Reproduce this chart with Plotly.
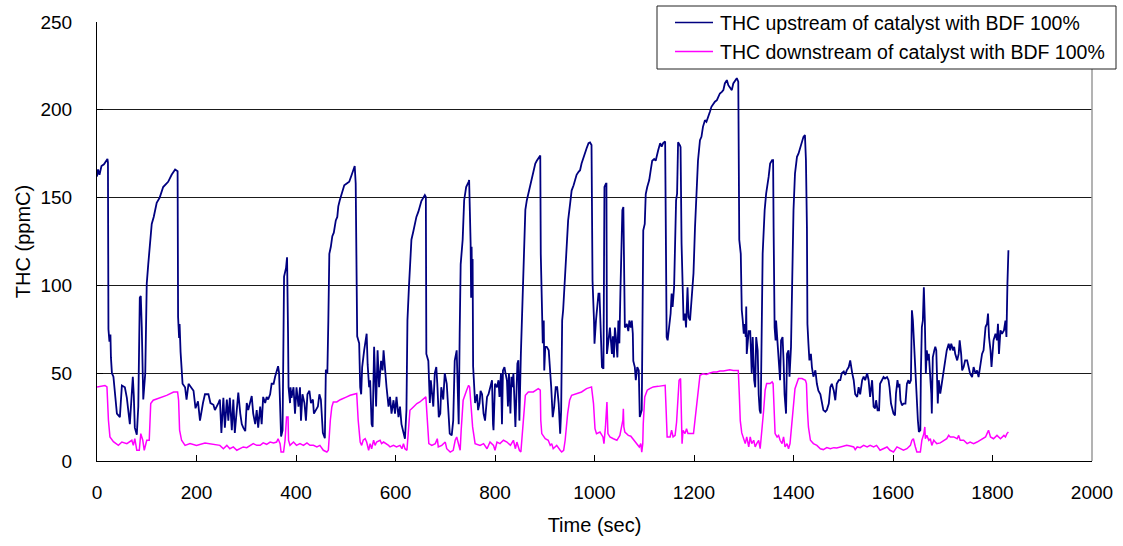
import plotly.graph_objects as go

# THC measured upstream of the catalyst (time in s, concentration in ppmC)
up_time = [
    0, 2, 5, 9, 14, 21, 22, 23, 25, 27, 28, 30, 33, 40, 46, 50, 56, 60, 66, 72,
    74, 76, 80, 83, 86, 88, 90, 93, 97, 100, 103, 107, 110, 114, 120, 126, 133, 143, 150, 157,
    162, 163, 165, 166, 168, 172, 177, 180, 184, 194, 198, 203, 207, 213, 217, 224, 228, 234, 237, 244,
    247, 250, 254, 257, 261, 264, 267, 271, 274, 277, 281, 284, 288, 291, 294, 298, 301, 304, 311, 314,
    318, 321, 324, 328, 331, 334, 338, 341, 344, 348, 351, 355, 358, 361, 364, 366, 368, 370, 373, 376,
    380, 382, 384, 385, 388, 389, 391, 395, 398, 401, 405, 408, 410, 413, 417, 420, 423, 427, 430, 434,
    436, 440, 444, 447, 450, 454, 458, 460, 463, 465, 467, 470, 473, 476, 480, 483, 485, 488, 493, 497,
    502, 507, 512, 515, 518, 520, 522, 523, 527, 529, 531, 533, 537, 540, 542, 544, 547, 549, 552, 554,
    557, 559, 561, 564, 567, 571, 574, 576, 579, 582, 586, 589, 592, 596, 599, 602, 606, 609, 612, 616,
    619, 622, 624, 627, 629, 632, 636, 639, 642, 646, 649, 652, 656, 659, 661, 662, 666, 667, 669, 671,
    674, 676, 679, 682, 684, 687, 690, 692, 696, 699, 703, 706, 709, 713, 716, 719, 723, 725, 727, 729,
    731, 735, 738, 742, 744, 747, 748, 750, 751, 752, 753, 754, 755, 756, 758, 760, 764, 766, 769, 771,
    774, 777, 780, 784, 787, 790, 794, 796, 797, 800, 804, 807, 809, 812, 814, 816, 819, 821, 824, 826,
    828, 831, 833, 835, 837, 841, 843, 845, 847, 849, 852, 854, 856, 859, 861, 864, 867, 871, 874, 877,
    881, 884, 888, 891, 892, 894, 896, 898, 899, 901, 904, 908, 911, 913, 916, 919, 922, 925, 928, 931,
    933, 935, 937, 941, 944, 947, 951, 954, 958, 961, 964, 968, 971, 974, 978, 981, 984, 988, 991, 994,
    996, 999, 1000, 1003, 1006, 1008, 1010, 1011, 1013, 1015, 1018, 1019, 1020, 1023, 1024, 1025, 1028, 1031, 1035, 1037,
    1039, 1041, 1043, 1046, 1048, 1050, 1052, 1054, 1056, 1058, 1059, 1061, 1065, 1068, 1070, 1073, 1075, 1077, 1078, 1081,
    1083, 1086, 1089, 1091, 1095, 1097, 1098, 1101, 1103, 1106, 1110, 1113, 1116, 1120, 1123, 1128, 1132, 1135, 1138, 1142,
    1143, 1145, 1147, 1150, 1153, 1155, 1157, 1160, 1162, 1164, 1166, 1168, 1172, 1173, 1175, 1177, 1179, 1182, 1184, 1187,
    1189, 1192, 1195, 1199, 1202, 1205, 1208, 1212, 1215, 1218, 1222, 1225, 1229, 1232, 1235, 1239, 1242, 1246, 1249, 1252,
    1256, 1259, 1262, 1266, 1269, 1272, 1276, 1279, 1283, 1286, 1289, 1291, 1294, 1296, 1298, 1300, 1302, 1304, 1305, 1306,
    1310, 1313, 1316, 1318, 1321, 1323, 1325, 1328, 1330, 1332, 1334, 1336, 1338, 1342, 1345, 1350, 1353, 1357, 1359, 1360,
    1362, 1364, 1365, 1368, 1371, 1373, 1375, 1378, 1380, 1382, 1385, 1387, 1390, 1392, 1395, 1397, 1400, 1403, 1407, 1410,
    1414, 1417, 1420, 1423, 1425, 1427, 1428, 1430, 1432, 1435, 1437, 1440, 1444, 1447, 1450, 1454, 1457, 1460, 1464, 1467,
    1471, 1474, 1477, 1481, 1484, 1487, 1491, 1494, 1497, 1501, 1504, 1507, 1511, 1514, 1518, 1521, 1524, 1528, 1531, 1534,
    1538, 1541, 1544, 1548, 1551, 1554, 1558, 1561, 1564, 1566, 1569, 1572, 1574, 1578, 1581, 1584, 1588, 1591, 1593, 1596,
    1598, 1601, 1604, 1606, 1609, 1611, 1613, 1615, 1618, 1621, 1625, 1628, 1631, 1633, 1636, 1638, 1640, 1643, 1645, 1647,
    1650, 1652, 1655, 1656, 1658, 1660, 1662, 1664, 1665, 1666, 1668, 1670, 1672, 1675, 1677, 1678, 1680, 1683, 1685, 1687,
    1688, 1690, 1692, 1695, 1698, 1702, 1705, 1708, 1712, 1715, 1717, 1721, 1723, 1725, 1729, 1732, 1734, 1737, 1739, 1742,
    1745, 1749, 1752, 1755, 1759, 1762, 1766, 1769, 1772, 1776, 1779, 1782, 1786, 1789, 1791, 1793, 1796, 1798, 1800, 1802,
    1806, 1809, 1811, 1813, 1816, 1819, 1823, 1826, 1828, 1829, 1830, 1832,
]
up_thc = [
    162, 166, 163, 168, 169, 172, 170, 75, 68, 72, 59, 50, 48, 27, 25, 43, 42, 36, 21, 48,
    37, 19, 15, 31, 93, 94, 76, 35, 50, 101, 112, 124, 135, 139, 147, 150, 156, 159, 163, 166,
    165, 82, 70, 78, 62, 44, 42, 35, 44, 40, 30, 34, 23, 33, 38, 38, 33, 32, 29, 33,
    35, 16, 36, 19, 35, 23, 36, 17.5, 35, 16, 29, 39, 27, 21, 19, 17, 33, 29, 37, 27,
    21, 29, 19, 31, 21, 36.5, 33, 36.5, 35, 38, 44, 44, 48, 52, 54, 50, 23, 14, 17.5, 105,
    110, 116, 73, 42, 33, 42, 36, 42, 27, 42, 31, 42, 23, 38, 33, 23, 38, 40, 33, 35,
    27, 29, 31, 38, 35, 16, 13, 52, 50, 80, 118, 122, 128, 130, 137, 139, 145, 148.5, 153, 157,
    158, 159, 163, 165, 168, 158, 109, 71, 67, 42, 38, 53.5, 63, 69, 72.5, 55, 42, 46, 21, 19.4,
    65, 48, 31, 63, 42, 57, 51.6, 63, 50, 42, 31, 36.5, 27, 34.6, 27, 36.5, 25, 31, 21, 15.6,
    12.7, 29, 80, 99, 112, 126, 131, 135, 139, 142, 146, 148, 150, 151.4, 150.4, 61, 57, 44, 33, 46,
    38, 31, 50, 53.5, 44, 25, 27, 42, 35, 50, 44, 27, 15.6, 14.6, 23, 57, 63, 42, 21, 72.5,
    112, 126, 148.5, 156, 157, 159, 160, 136, 124, 93, 122, 94, 115, 54, 44, 33, 38, 29, 33, 40,
    38, 27, 23, 36.5, 38, 42, 46, 21, 17.5, 44, 42, 46, 36.5, 50, 21, 51.6, 53.5, 50, 46, 31,
    50, 27, 48, 42, 50, 19.4, 42, 55.4, 57.3, 23, 61, 80, 108.6, 133, 143, 148.5, 152.3, 157, 162, 165.6,
    169.4, 171, 173, 174, 118, 80, 67, 80, 51.6, 65, 65, 63, 51.6, 42, 25, 31, 42, 42, 32.7, 15.6,
    29, 80, 86, 108.6, 127.6, 137, 146.6, 154, 157, 161, 163, 164.7, 165.6, 169.4, 173.2, 176, 178, 181, 181.4, 180,
    102.9, 80, 66.8, 80, 87.7, 95.3, 95.3, 87.7, 76.3, 53.5, 52.6, 87.7, 156, 158, 158, 61, 70.6, 76, 61, 71,
    59, 76, 70.6, 59, 80, 67, 95.3, 131.4, 142.8, 144.7, 103, 76, 78, 74, 80, 76, 80, 72.5, 57, 53.5,
    46, 53.5, 51.6, 25, 29, 86, 131.4, 135, 152, 156, 160, 165.6, 171, 172, 171, 177, 181, 179, 181, 182,
    152, 70.6, 68.7, 78, 84, 95.3, 87.7, 99, 133, 148.5, 152.3, 181.5, 179.6, 178.7, 123.8, 95.3, 80, 84, 76, 99,
    82, 80, 91.5, 107, 133, 148.5, 171, 182.7, 184.6, 190.3, 194.1, 193.2, 196, 198.9, 201.7, 203.6, 204.6, 205.5, 207.4, 209.3,
    210.2, 211.2, 215, 216.9, 214, 213, 211.2, 215, 217, 218, 216, 126, 118, 86, 80, 72.5, 78, 70.6, 88, 61,
    74, 74, 50, 70.6, 46, 42, 70.6, 63, 38, 29, 27, 87.7, 118, 142.8, 152.3, 161.8, 169.4, 171.3, 171.3, 133,
    76, 68.7, 80, 67, 57.3, 46, 68.7, 70.6, 57.3, 38, 27, 61, 63, 48, 65, 105, 142.8, 163.7, 173.2, 175,
    179, 180.8, 184.6, 185.6, 171.3, 133, 78, 66.8, 57.3, 61, 53.5, 48, 51.6, 44, 40, 38, 32.7, 29, 28, 29,
    32.7, 42, 44, 40, 34.6, 44, 46, 46, 50, 51, 49, 51.6, 53.5, 57.3, 50, 46, 38, 36.5, 42, 38,
    46, 48, 46, 50, 46, 36.5, 46, 31, 30, 34.6, 28.9, 28.9, 44, 46, 47.8, 47, 47.8, 46, 42, 32.7,
    30.8, 27, 26, 38.4, 46, 42, 44, 34.6, 31.7, 32.7, 32.7, 44, 46, 44, 46, 85.8, 80, 61, 53.5, 36.5,
    23.2, 16.5, 17.5, 49.7, 76.3, 80, 99, 80, 61, 49.7, 63, 57.3, 61, 49.7, 38.4, 27, 59, 63, 65, 63,
    49.7, 32.7, 46, 38.4, 44, 53.5, 57.3, 63, 66.8, 63, 66.8, 63, 65, 61, 57.3, 61, 68.7, 61, 51.6, 53.5,
    57.3, 57.3, 53.5, 49.7, 47.8, 53.5, 49.7, 51.6, 47.8, 55.4, 61, 63, 76.3, 78.2, 84, 70.6, 63, 53.5, 65, 68.7,
    72.5, 68.7, 78.2, 61, 74.4, 72.5, 74.4, 80, 70.6, 91.5, 101, 120,
]

# THC measured downstream of the catalyst
down_time = [
    0, 16, 20, 23, 26, 33, 43, 50, 60, 70, 73, 76, 80, 85, 88, 92, 95, 100, 105, 108,
    113, 127, 140, 154, 162, 164, 166, 170, 177, 187, 200, 217, 227, 241, 247, 254, 261, 267, 274, 281,
    288, 294, 301, 308, 314, 321, 328, 334, 341, 348, 355, 361, 364, 368, 370, 375, 378, 381, 384, 385,
    388, 395, 401, 408, 415, 422, 428, 435, 442, 448, 455, 462, 465, 469, 472, 475, 482, 489, 495, 502,
    509, 515, 522, 525, 529, 532, 535, 539, 542, 546, 549, 552, 556, 559, 562, 569, 572, 576, 582, 586,
    589, 596, 602, 609, 613, 616, 619, 623, 626, 629, 636, 643, 649, 656, 661, 664, 667, 673, 680, 684,
    686, 693, 700, 703, 710, 716, 720, 723, 726, 730, 732, 736, 743, 747, 749, 751, 755, 760, 770, 777,
    784, 790, 797, 800, 804, 810, 817, 824, 831, 837, 841, 844, 849, 852, 855, 857, 861, 867, 877, 887,
    891, 892, 894, 901, 907, 911, 914, 917, 924, 931, 934, 938, 941, 946, 950, 954, 964, 974, 984, 994,
    998, 1001, 1004, 1011, 1017, 1019, 1022, 1025, 1027, 1031, 1038, 1045, 1051, 1055, 1057, 1058, 1059, 1061, 1068, 1073,
    1077, 1081, 1085, 1090, 1093, 1095, 1097, 1098, 1101, 1106, 1111, 1118, 1128, 1138, 1142, 1144, 1146, 1152, 1155, 1158,
    1162, 1165, 1168, 1170, 1173, 1174, 1176, 1178, 1182, 1185, 1188, 1199, 1202, 1205, 1208, 1212, 1218, 1225, 1232, 1239,
    1246, 1252, 1259, 1266, 1272, 1279, 1289, 1291, 1293, 1296, 1300, 1303, 1306, 1310, 1313, 1316, 1320, 1323, 1326, 1330,
    1333, 1336, 1340, 1343, 1346, 1353, 1357, 1359, 1361, 1363, 1367, 1370, 1373, 1377, 1380, 1383, 1387, 1390, 1393, 1397,
    1400, 1403, 1410, 1417, 1424, 1426, 1428, 1430, 1434, 1440, 1447, 1454, 1460, 1467, 1474, 1481, 1487, 1494, 1501, 1507,
    1514, 1521, 1524, 1528, 1534, 1541, 1548, 1554, 1561, 1567, 1574, 1581, 1588, 1594, 1601, 1608, 1615, 1621, 1628, 1635,
    1638, 1641, 1645, 1648, 1655, 1658, 1662, 1664, 1665, 1668, 1672, 1675, 1678, 1682, 1685, 1688, 1695, 1702, 1708, 1712,
    1715, 1722, 1729, 1732, 1735, 1742, 1749, 1755, 1762, 1769, 1776, 1782, 1786, 1789, 1792, 1796, 1802, 1809, 1816, 1823,
    1826, 1829, 1832,
]
down_thc = [
    42.2, 43, 42.2, 23.2, 13.7, 11, 8.9, 10.8, 9.9, 11.8, 8.9, 12.7, 6.1, 6.1, 15.6, 11.8, 6.1, 11.8, 11.8, 32.7,
    34.6, 36, 37.4, 39.3, 39.3, 34.6, 17.5, 11.8, 8.9, 9.9, 8.9, 10.3, 9.9, 8.9, 8.9, 7, 8.9, 7, 8, 6.1,
    7, 8, 7.6, 8.9, 9.9, 8.9, 8.9, 10.3, 9.5, 10.8, 10.3, 10.8, 12.7, 9.9, 5.1, 5.1, 11.8, 25, 25, 11.8,
    8.9, 10.8, 8.9, 9.9, 8.9, 10.3, 8.9, 8.9, 8, 8.9, 6.1, 5.1, 6.1, 23.2, 30.8, 33.6, 33.6, 34.9, 35.5, 36.5,
    37.4, 38, 38.4, 23.2, 10.8, 8.9, 11.8, 12.7, 10.8, 6.1, 9.9, 7, 11.8, 8.9, 10.8, 11.8, 9.9, 10.8, 9.9, 8.9,
    8, 8.9, 8, 8.9, 7, 9.9, 7, 6.1, 17.5, 28.9, 30.8, 32.7, 33.6, 35.5, 36.5, 23.2, 9.9, 8.9, 9.9, 12.7,
    8, 8.9, 10.8, 7, 5.1, 6.1, 11.8, 13.7, 9.9, 6.1, 17.5, 34.6, 40.3, 43.1, 42.2, 32.7, 19.4, 9.9, 8.9, 9.9,
    7, 10.8, 8.9, 6.1, 10.8, 9.9, 11.8, 10.8, 8.9, 11.8, 7, 10.8, 6.1, 5.1, 15.6, 27, 37.4, 39.3, 39.3, 41.2,
    40.3, 23.2, 15.6, 12.7, 11.8, 8.9, 9.9, 7, 8.9, 6.1, 5.1, 6.1, 11.8, 27, 34.6, 37.4, 38.4, 39.3, 41.2, 42.2,
    32.7, 18.4, 15.6, 16.5, 13.7, 9.9, 19.4, 33.6, 15.6, 13.7, 12.7, 11.8, 14.6, 19.4, 23.2, 29.8, 19.4, 16.5, 14.6, 14.1,
    12.7, 10.8, 9.9, 8, 9.9, 5.1, 9.9, 21.3, 36.5, 40.3, 41.2, 42.2, 42.5, 43.1, 43.1, 28.9, 13.7, 13.7, 17.5, 13.7,
    14.6, 22.2, 38.4, 46, 47, 25.1, 9.9, 17.5, 15.6, 18.4, 15.6, 15.6, 23.2, 30.8, 40.3, 48.8, 49.7, 49.3, 50.1, 50.7,
    50.7, 51.2, 51.2, 51.6, 52, 51.6, 51.6, 38.4, 23, 16, 12.7, 9.9, 13.7, 8, 13.7, 9.9, 11.8, 8, 9.9, 11.8,
    7, 15.6, 28.9, 40.3, 44.1, 44.1, 45, 44.1, 28.9, 15.6, 13.7, 14.6, 11.8, 9.9, 13.7, 8, 9.9, 7, 9.9, 23.2,
    34.6, 41.2, 47, 47, 46, 44.1, 28.9, 19.4, 11.8, 9.9, 8.9, 7, 6.5, 7.6, 7, 7.6, 7.4, 8, 8.5, 8.9,
    8.5, 8, 6.5, 8, 7.6, 8.9, 8, 8.9, 8, 8.9, 6.1, 7, 8, 6.1, 5.1, 8, 7, 6.1, 7, 8.9,
    11.8, 12.7, 8, 5.1, 5.1, 11.8, 15.6, 19.4, 12.7, 14.6, 11.8, 12.7, 8.9, 11.8, 10.8, 9.9, 10.3, 11.8, 12.7, 14.6,
    13.7, 13.7, 12.7, 14.6, 11.8, 11.8, 9.9, 10.8, 9.9, 10.8, 11.8, 12.7, 13.7, 15.6, 17.5, 13.7, 12.7, 14.6, 12.7, 14.6,
    13.7, 15.6, 16.5,
]

series_names = [
    "THC upstream of catalyst with BDF 100%",
    "THC downstream of catalyst with BDF 100%",
]
series_colors = ["#000080", "#FF00FF"]

x_ticks = list(range(0, 2001, 200))
y_ticks = list(range(0, 251, 50))

FONT = "Liberation Sans, Arial, sans-serif"

# figure geometry (pixels)
W, H = 1123, 546
M_L, M_R, M_T, M_B = 97, 31, 22, 85
PLOT_W = W - M_L - M_R
PLOT_H = H - M_T - M_B


def paper_x(px):
    return (px - M_L) / PLOT_W


def paper_y(py):
    return (H - M_B - py) / PLOT_H


fig = go.Figure()
fig.add_trace(go.Scatter(
    x=up_time, y=up_thc, mode="lines", name=series_names[0],
    line=dict(color=series_colors[0], width=1.8), showlegend=False,
))
fig.add_trace(go.Scatter(
    x=down_time, y=down_thc, mode="lines", name=series_names[1],
    line=dict(color=series_colors[1], width=1.5), showlegend=False,
))

# plot-area frame on the right side
fig.add_shape(type="line", xref="paper", yref="paper", x0=1, x1=1, y0=0, y1=1,
              line=dict(color="#9a9a9a", width=1.5), layer="above")

# legend box, overlapping the top-right corner of the plot area
LEG_LEFT, LEG_RIGHT, LEG_TOP, LEG_BOTTOM = 657, 1116, 6, 69
ROW_Y = [22.5, 51.5]
SAMPLE_X0, SAMPLE_X1, TEXT_X = 675, 713, 718

fig.add_shape(type="rect", xref="paper", yref="paper",
              x0=paper_x(LEG_LEFT), x1=paper_x(LEG_RIGHT),
              y0=paper_y(LEG_BOTTOM), y1=paper_y(LEG_TOP),
              fillcolor="white", line=dict(color="#222222", width=1), layer="above")
for name, color, ry in zip(series_names, series_colors, ROW_Y):
    fig.add_shape(type="line", xref="paper", yref="paper",
                  x0=paper_x(SAMPLE_X0), x1=paper_x(SAMPLE_X1),
                  y0=paper_y(ry), y1=paper_y(ry),
                  line=dict(color=color, width=1.5), layer="above")
    fig.add_annotation(xref="paper", yref="paper", x=paper_x(TEXT_X), y=paper_y(ry),
                       xanchor="left", yanchor="middle", text=name, showarrow=False,
                       font=dict(family=FONT, size=19.5, color="black"))

fig.update_layout(
    width=W, height=H,
    margin=dict(l=M_L, r=M_R, t=M_T, b=M_B),
    paper_bgcolor="white", plot_bgcolor="white",
    font=dict(family=FONT, size=19, color="black"),
    showlegend=False,
    xaxis=dict(
        range=[0, 2000], tickvals=x_ticks, ticks="inside", ticklen=6,
        tickcolor="black", showline=True, linecolor="black", linewidth=1,
        showgrid=False, zeroline=False, ticklabelstandoff=14,
        title=dict(text="Time (sec)", font=dict(size=20), standoff=16),
        automargin=False,
    ),
    yaxis=dict(
        range=[0, 250], tickvals=y_ticks, ticks="inside", ticklen=6,
        tickcolor="black", showline=True, linecolor="black", linewidth=1,
        showgrid=True, gridcolor="#1a1a1a", gridwidth=1, zeroline=False,
        ticklabelstandoff=20,
        title=dict(text="THC (ppmC)", font=dict(size=20), standoff=4),
        automargin=False,
    ),
)

fig.write_html("out.html")
